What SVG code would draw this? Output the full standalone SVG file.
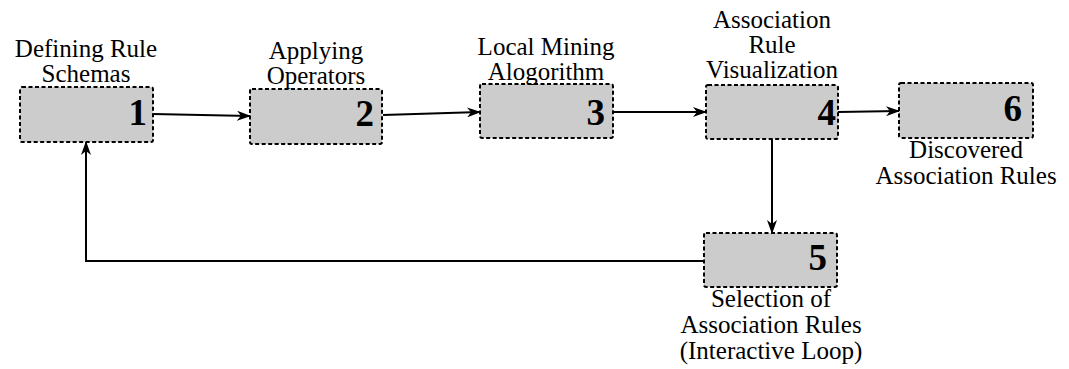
<svg xmlns="http://www.w3.org/2000/svg" width="1069" height="369" viewBox="0 0 1069 369">
<style>
.box{fill:#cccccc;stroke:#000;stroke-width:2;stroke-dasharray:4 2.5}
.lbl{font-family:'Liberation Serif','DejaVu Serif',serif;font-size:25px;fill:#000;text-anchor:middle}
.num{font-family:'Liberation Serif','DejaVu Serif',serif;font-size:37px;font-weight:bold;fill:#000;text-anchor:end}
.edge{fill:none;stroke:#000;stroke-width:2}
</style>
<defs>
<marker id="ah" viewBox="0 0 14 10" refX="13" refY="5" markerWidth="14" markerHeight="10" markerUnits="userSpaceOnUse" orient="auto">
<path d="M0,0 L14,5 L0,10 L4,5 z" fill="#000"/>
</marker>
</defs>
<rect width="1069" height="369" fill="#fff"/>
<g id="connectors">
<path class="edge" d="M153,114 L250,116" marker-end="url(#ah)"/>
<path class="edge" d="M383,115 L480,112" marker-end="url(#ah)"/>
<path class="edge" d="M613,112 L706,112" marker-end="url(#ah)"/>
<path class="edge" d="M838,112 L899,111" marker-end="url(#ah)"/>
<path class="edge" d="M772,139 L772,233" marker-end="url(#ah)"/>
<path class="edge" d="M704,261 L86,261 L86,142" marker-end="url(#ah)"/>
</g>
<g id="node1">
<rect class="box" x="20" y="87" width="133" height="55" rx="2"/>
<text class="lbl" font-family="Liberation Serif, serif" x="86" y="57">Defining Rule</text>
<text class="lbl" font-family="Liberation Serif, serif" x="86" y="82">Schemas</text>
<text class="num" font-family="Liberation Serif, serif" x="147" y="125">1</text>
</g>
<g id="node2">
<rect class="box" x="250" y="89" width="132" height="55" rx="2"/>
<text class="lbl" x="316" y="59">Applying</text>
<text class="lbl" x="316" y="84">Operators</text>
<text class="num" x="374" y="126">2</text>
</g>
<g id="node3">
<rect class="box" x="480" y="84" width="133" height="54" rx="2"/>
<text class="lbl" x="546" y="55">Local Mining</text>
<text class="lbl" x="546" y="80">Alogorithm</text>
<text class="num" x="605" y="125">3</text>
</g>
<g id="node4">
<rect class="box" x="706" y="85" width="132" height="54" rx="2"/>
<text class="lbl" x="772" y="28">Association</text>
<text class="lbl" x="772" y="53">Rule</text>
<text class="lbl" x="772" y="78">Visualization</text>
<text class="num" x="836" y="125">4</text>
</g>
<g id="node6">
<rect class="box" x="899" y="83" width="134" height="55" rx="2"/>
<text class="lbl" x="966" y="158">Discovered</text>
<text class="lbl" x="966" y="184">Association Rules</text>
<text class="num" x="1022" y="121">6</text>
</g>
<g id="node5">
<rect class="box" x="704" y="233" width="133" height="54" rx="2"/>
<text class="lbl" x="771" y="307">Selection of</text>
<text class="lbl" x="771" y="333">Association Rules</text>
<text class="lbl" x="771" y="359">(Interactive Loop)</text>
<text class="num" x="827" y="270">5</text>
</g>
</svg>
